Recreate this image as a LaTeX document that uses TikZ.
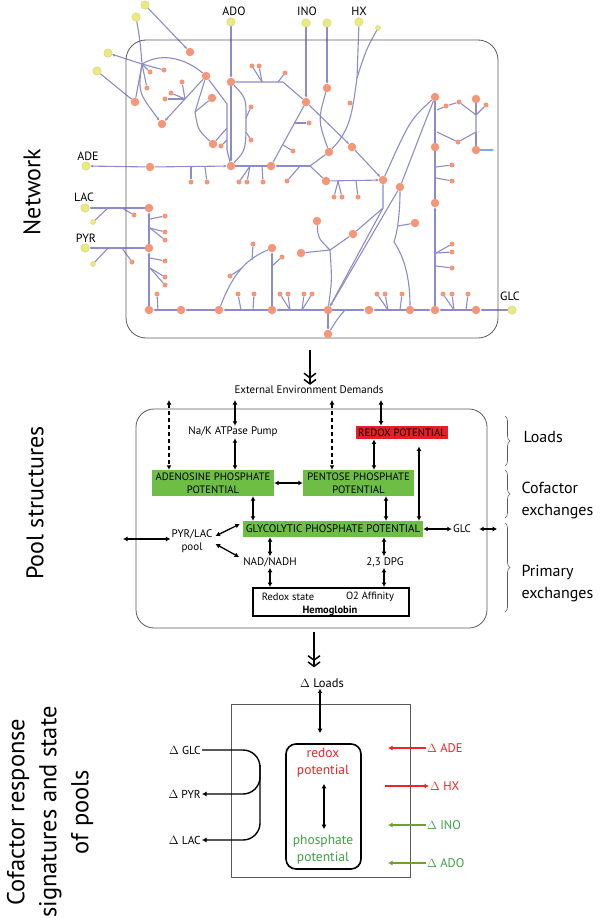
\documentclass[tikz,border=0pt]{standalone}
\usepackage{fontspec}
\setmainfont{PT Sans}
\usetikzlibrary{arrows.meta,decorations.pathreplacing,calc,backgrounds}
\definecolor{edgec}{RGB}{140,140,200}
\definecolor{salmon}{RGB}{244,150,120}
\definecolor{yel}{RGB}{234,234,128}
\definecolor{yelb}{RGB}{205,205,110}
\definecolor{gboxc}{RGB}{110,190,70}
\definecolor{rboxc}{RGB}{230,30,38}
\definecolor{myred}{RGB}{237,36,40}
\definecolor{mygreen}{RGB}{60,160,70}
\definecolor{agreen}{RGB}{110,160,50}
\definecolor{boxgray}{RGB}{90,90,90}
\definecolor{lblue}{RGB}{130,170,220}
\begin{document}
\begin{tikzpicture}[x=1pt,y=-1pt,
  nb/.style={circle,fill=salmon,inner sep=0,minimum size=8.5pt},
  ns/.style={circle,fill=salmon,inner sep=0,minimum size=5pt},
  yb/.style={circle,fill=yel,draw=yelb,line width=0.3pt,inner sep=0,minimum size=8.5pt},
  ysm/.style={circle,fill=yel,draw=yelb,line width=0.3pt,inner sep=0,minimum size=5pt},
  ed/.style={draw=edgec,line width=1.1pt},
  ea/.style={ed,-{Stealth[length=3pt,width=3pt]}},
  sec/.style={rotate=90,font=\fontsize{24}{31}\selectfont,align=center},
  brtxt/.style={anchor=west,font=\fontsize{16}{22}\selectfont,align=left},
  brc/.style={draw=boxgray,line width=0.6pt,decorate,decoration={brace,amplitude=5pt}},
  ptxt/.style={font=\fontsize{11}{13}\selectfont,inner sep=1pt,align=center},
  gbox/.style={fill=gboxc,inner sep=0,align=center,font=\fontsize{10.7}{13}\selectfont},
  pa/.style={line width=1.3pt,{Latex[length=4.5pt,width=5pt]}-{Latex[length=4.5pt,width=5pt]}},
  pd/.style={pa,dash pattern=on 4pt off 3pt},
  dbl/.style={line width=1.5pt,-{Straight Barb[length=4.5pt,width=12pt]Straight Barb[length=4.5pt,width=12pt]}},
  nlab/.style={font=\fontsize{12}{14}\selectfont,inner sep=0},
  dtxt/.style={font=\fontsize{12.5}{15}\selectfont,inner sep=1pt},
  ptl/.style={font=\fontsize{13.5}{17}\selectfont,align=center,inner sep=0},
  ra/.style={line width=1.3pt,-{Latex[length=4.5pt,width=5pt]}},
  ba/.style={line width=1.4pt,-{Latex[length=4.5pt,width=5pt]}}
]
\useasboundingbox (0,0) rectangle (600,918);

% ---------------- section labels
\node[sec] (lnet) at (32,192) {Network};
\node[sec] (lpool) at (35,503) {Pool structures};
\node[sec,font=\fontsize{24.5}{32}\selectfont] (lcof) at (50,812) {Cofactor response\\signatures and state\\of pools};

% ---------------- network box
\node[draw=boxgray,line width=0.8pt,rounded corners=20pt,minimum width=372pt,minimum height=298pt,inner sep=0] (netbox) at (312,189) {};

% yellow externals
\foreach \n/\x/\y in {y1/145/5,y2/136/17,y3/108/53,y4/97/71,yado/231/22,yino/306/23,yx/327/23,yhx/359/22,yade/86/166,ylac/85/208,ypyr/85/248,yglc/512/310}
  \node[yb] (\n) at (\x,\y) {};
\foreach \n/\x/\y in {ys1/378/28,ys2/93/222,ys3/93/264}
  \node[ysm] (\n) at (\x,\y) {};
% big internal
\foreach \n/\x/\y in {n1/190/52,n2/135/102,n3/162/124,n4/206/76,n5/212/98,n6/213/144,n7/231/82,n8/306/102,n9/150/167,n10/231/166,n11/271/166,n12/327/88,n13/329/152,n14/352/147,n15/435/97,n16/476/99,n17/435/147,n18/476/150,n19/326/181,n20/383/180,n21/400/187,n22/435/203,n23/317/221,n24/353/234,n25/415/223,n26/301/253,n27/149/208,n28/149/248,n29/149/310,n30/181/310,n31/219/310,n32/272/310,n33/272/248,n34/328/310,n35/369/310,n36/410/310,n37/435/310,n38/476/310,n39/328/334}
  \node[nb] (\n) at (\x,\y) {};
% small internal
\foreach \n/\x/\y in {s1/150/72,s2/164/70,s3/147/88,s4/182/82,s5/171/93,s6/165/99,s7/221/146,s8/252/66,s9/259/66,s10/285/73,s11/251/107,s12/251/140,s13/309/123,s14/293/151,s15/350/103,s16/446/106,s17/459/102,s18/486/105,s19/458/142,s20/452/165,s21/191/182,s22/207/182,s23/239/182,s24/247/182,s25/263/182,s26/287/181,s27/334/197,s28/342/197,s29/358/197,s30/452/181,s31/134/215,s32/132/262,s33/165/216,s34/165/232,s35/165/240,s36/165/261,s37/165/277,s38/165/285,s39/157/294,s40/253/244,s41/230/276,s42/282/257,s43/238/294,s44/254/294,s45/280/294,s46/288/294,s47/304/294,s48/312/294,s49/377/294,s50/385/294,s51/402/294,s52/443/294,s53/452/294,s54/468/294,s55/452/244,s56/452/252,s57/452/268}
  \node[ns] (\n) at (\x,\y) {};

% labels of externals
\node[nlab] (lado) at (234,11) {ADO};
\node[nlab] (lino) at (307,11) {INO};
\node[nlab] (lhx) at (359,11) {HX};
\node[nlab] (lade) at (88,156) {ADE};
\node[nlab] (llac) at (84,197) {LAC};
\node[nlab] (lpyr) at (86,238) {PYR};
\node[nlab] (lglc) at (510,296) {GLC};

\begin{scope}[on background layer]
\coordinate (j1) at (142,64);
\draw[ed] (y2) .. controls (140,40) .. (j1);
\draw[ea] (j1) -- (y3);
\draw[ea] (y1) -- (n1);
\draw[ed] (j1) -- (s1);
\draw[ed] (j1) -- (s3);
\draw[ed] (j1) -- (s2);
\draw[ed] (j1) .. controls (165,50) and (190,62) .. (n4);
\draw[ea] (j1) .. controls (138,92) .. (n3);
\draw[ed] (j1) -- (n2);
\draw[ed] (y4) -- (n2);
\coordinate (j2) at (185,99);
\draw[ea] (n4) -- (n3);
\draw[ed] (j2) -- (s4);
\draw[ed] (j2) -- (s5);
\draw[ed] (j2) -- (s6);
\coordinate (j3) at (195,112);
\draw[ed] (n4) -- (j3) .. controls (198,130) .. (n6);
\draw[ed] (j3) -- (n5);
\coordinate (j5) at (227,104);
\draw[ed] (n4) -- (j5) -- (227,150) -- (n10);
\draw[ed] (n6) -- (227,128);
\draw[ed] (s7) -- (227,140);
\draw[ea] (yado) -- (n7);
\draw[ea] (n7) -- (n10);
\coordinate (j6) at (246,118);
\draw[ed] (n7) .. controls (246,98) .. (j6) .. controls (246,150) .. (n10);
\draw[ed] (j6) -- (s11);
\draw[ed] (246,132) -- (s12);
\draw[ed] (n7) -- (283,82) -- (n8);
\draw[ed] (262,82) -- (s8);
\draw[ed] (262,82) -- (s9);
\draw[ed] (278,82) -- (s10);
\draw[ea] (yino) -- (n8);
\draw[ed] (n8) -- (n11);
\draw[ed] (294,123) -- (s13);
\draw[ed] (283,145) -- (s14);
\draw[ea] (n8) -- (n14);
\draw[ea] (yx) -- (n12);
\draw[ed] (n12) .. controls (318,120) .. (n13);
\coordinate (jh) at (357,78);
\draw[ed] (yhx) -- (jh) .. controls (352,115) and (350,130) .. (n13);
\draw[ed] (ys1) .. controls (366,50) .. (jh);
\draw[ea] (n14) -- (n20);
\coordinate (j12) at (310,166);
\draw[ed] (n13) -- (j12);
\draw[ea] (j12) -- (n11);
\draw[ed] (j12) -- (n19);
\draw[ed] (300,166) -- (s26);
\draw[ea] (n9) -- (yade);
\draw[ea] (n9) -- (n10);
\draw[ed] (191,167) -- (s21);
\draw[ed] (205,167) -- (s22);
\draw[ed] (n10) -- (n11);
\draw[ed] (250,166) -- (s23);
\draw[ed] (250,166) -- (s24);
\draw[ed] (262,166) -- (s25);
\draw[ea] (n19) -- (n20);
\draw[ed] (338,181) -- (s27);
\draw[ed] (338,181) -- (s28);
\draw[ed] (356,181) -- (s29);
\draw[ed] (n15) .. controls (410,120) .. (n20);
\draw[ed] (n15) .. controls (422,130) .. (n21);
\coordinate (j13) at (383,208);
\draw[ed] (n20) -- (j13) -- (n24);
\draw[ed] (j13) -- (n34);
\draw[ea] (n21) -- (n34);
\coordinate (j14) at (330,250);
\draw[ed] (n24) -- (j14) -- (n26);
\draw[ed] (j14) .. controls (318,238) .. (n23);
\draw[ed] (j14) .. controls (332,280) .. (n34);
\coordinate (j15) at (394,242);
\draw[ed] (n21) .. controls (400,210) and (398,230) .. (j15) .. controls (405,258) and (410,280) .. (n36);
\draw[ed] (398,226) -- (n25);
\draw[ed] (n15) -- (n17);
\draw[ed] (437,110) -- (s16) -- (s17) -- (476,115) -- (476,132) -- (s19) -- (437,132);
\draw[ed] (n16) -- (476,115);
\draw[ed] (s18) -- (476,115);
\draw[ed] (476,132) -- (n18);
\draw[draw=lblue,line width=1.1pt,-{Stealth[length=3pt,width=3pt]}] (n18) -- (494,150);
\draw[ea] (n37) -- (n22);
\draw[ed] (n22) -- (n17);
\draw[ed] (436,167) -- (s20);
\draw[ed] (436,178) -- (s30);
\draw[ed] (436,253) -- (s55);
\draw[ed] (436,253) -- (s56);
\draw[ed] (436,266) -- (s57);
\draw[ea] (n30) -- (n29);
\draw[ea] (n31) -- (n30);
\draw[ea] (n32) -- (n31);
\draw[ea] (n34) -- (n32);
\draw[ea] (n34) -- (n35);
\draw[ea] (n36) -- (n35);
\draw[ea] (n36) -- (n37);
\draw[ea] (n38) -- (n37);
\draw[ea] (yglc) -- (n38);
\draw[ed] (158,310) -- (s39);
\draw[ed] (241,310) -- (s43);
\draw[ed] (253,310) -- (s44);
\draw[ed] (290,310) -- (s45);
\draw[ed] (290,310) -- (s46);
\draw[ed] (302,310) -- (s47);
\draw[ed] (302,310) -- (s48);
\draw[ed] (388,310) -- (s49);
\draw[ed] (388,310) -- (s50);
\draw[ed] (400,310) -- (s51);
\draw[ed] (454,310) -- (s52);
\draw[ed] (454,310) -- (s53);
\draw[ed] (466,310) -- (s54);
\draw[ed] (n31) .. controls (235,268) and (250,258) .. (n33);
\draw[ed] (252,260) -- (s40);
\draw[ed] (242,268) -- (s41);
\draw[ed] (272,266) -- (s42);
\draw[ea] (n32) -- (n33);
\draw[ea] (n34) -- (n39);
\draw[ed] (345,310) .. controls (338,318) .. (n39);
\draw[ea] (n28) -- (n27);
\draw[ea] (n29) -- (n28);
\draw[ed] (150,219) -- (s33);
\draw[ed] (150,228) -- (s34);
\draw[ed] (150,228) -- (s35);
\draw[ed] (150,258) -- (s36);
\draw[ed] (150,268) -- (s37);
\draw[ed] (150,268) -- (s38);
\draw[ea] (n27) -- (ylac);
\draw[ed] (108,208) -- (ys2);
\draw[ed] (122,208) -- (s31);
\draw[ea] (n28) -- (ypyr);
\draw[ed] (108,248) -- (ys3);
\draw[ed] (122,248) -- (s32);
\end{scope}

% ---------------- arrow network -> pool
\coordinate (a1) at (310,350);
\node[ptxt] (ext) at (309,390) {External Environment Demands};
\draw[dbl] (a1) -- (a1 |- ext.north);

% ---------------- pool structures
\node[draw=boxgray,line width=0.8pt,rounded corners=18pt,minimum width=351pt,minimum height=219pt,inner sep=0] (poolbox) at (311.5,518.5) {};
\node[ptxt] (nak) at (233,432) {Na/K ATPase Pump};
\node[gbox,minimum width=122pt,minimum height=26pt] (ade) at (213,483) {ADENOSINE PHOSPHATE\\POTENTIAL};
\node[gbox,minimum width=111pt,minimum height=26pt] (pen) at (358.5,483) {PENTOSE PHOSPHATE\\POTENTIAL};
\node[fill=rboxc,inner sep=0,minimum width=92pt,minimum height=13.5pt,font=\fontsize{10.7}{12}\selectfont] (redox) at (402,432.5) {REDOX POTENTIAL};
\node[gbox,minimum width=180pt,minimum height=16pt,font=\fontsize{11}{13}\selectfont] (gly) at (333,529) {GLYCOLYTIC PHOSPHATE POTENTIAL};
\node[ptxt] (glc) at (462,529) {GLC};
\node[ptxt] (pyr) at (192,541) {PYR/LAC\\pool};
\node[ptxt] (nad) at (270,562) {NAD/NADH};
\node[ptxt] (dpg) at (385,562) {2,3 DPG};
\node[draw,line width=2pt,minimum width=156pt,minimum height=28pt,inner sep=0] (hemo) at (331,602) {};
\node[ptxt,font=\fontsize{10.5}{12}\selectfont] (rst) at (288,597) {Redox state};
\node[ptxt,font=\fontsize{10.5}{12}\selectfont] (o2) at (370,597) {O2 Affinity};
\node[ptxt,font=\fontsize{10.5}{12}\selectfont\bfseries] (hgb) at (330,611) {Hemoglobin};

\coordinate (t1) at (169,400);
\draw[pd] (t1) -- (t1 |- ade.north);
\coordinate (t2) at (235,400);
\draw[pa] (t2) -- (t2 |- nak.north);
\draw[pa] (t2 |- nak.south) -- (t2 |- ade.north);
\draw[pa] (ade.east) -- (pen.west);
\coordinate (t3) at (332,400);
\draw[pd] (t3) -- (t3 |- pen.north);
\coordinate (t4) at (381,400);
\draw[pa] (t4) -- (t4 |- redox.north);
\coordinate (t5) at (374,0);
\draw[pa] (t5 |- redox.south) -- (t5 |- pen.north);
\coordinate (t6) at (419,0);
\draw[pa] ($(t6 |- redox.south)+(0,7)$) -- (t6 |- gly.north);
\coordinate (t7) at (386,0);
\draw[pa] (t7 |- pen.south) -- (t7 |- gly.north);
\coordinate (t8) at (253,0);
\draw[pa] (t8 |- ade.south) -- (t8 |- gly.north);
\draw[pa] (gly.east) -- (glc.west);
\draw[pa] ($(glc.east)+(7,0)$) -- ++(18,0);
\coordinate (p0) at (123,539);
\draw[pa] (p0) -- (p0 -| pyr.west);
\draw[pa] ($(pyr.east)+(2,-5)$) -- ($(gly.west)+(-3,-5)$);
\draw[pa] ($(pyr.east)+(2,3)$) -- ($(nad.west)+(-3,-5)$);
\coordinate (t9) at (270,0);
\draw[pa] (t9 |- gly.south) -- (t9 |- nad.north);
\draw[pa] (t9 |- nad.south) -- (t9 |- hemo.north);
\coordinate (t10) at (384,0);
\draw[pa] (t10 |- gly.south) -- (t10 |- dpg.north);
\draw[pa] (t10 |- dpg.south) -- (t10 |- hemo.north);

% braces
\coordinate (bA) at (505,416); \coordinate (bB) at (505,466);
\coordinate (bC) at (505,470); \coordinate (bD) at (505,518);
\coordinate (bE) at (505,523); \coordinate (bF) at (505,612);
\draw[brc] (bA) -- (bB);
\draw[brc] (bC) -- (bD);
\draw[brc] (bE) -- (bF);
\node[brtxt] (tload) at (520,437) {Loads};
\node[brtxt] (tcof) at (518,500) {Cofactor\\exchanges};
\node[brtxt] (tprim) at (518,584) {Primary\\exchanges};

% ---------------- bottom section
\coordinate (b1) at (314,632);
\node[dtxt] (dloads) at (322,683) {$\Delta$ Loads};
\draw[dbl] (b1) -- ($(b1 |- dloads.north)+(0,-10)$);
\node[draw=boxgray,line width=0.8pt,minimum width=179pt,minimum height=173pt,inner sep=0] (sqbox) at (320.5,790.5) {};
\node[draw,line width=1.6pt,rounded corners=10pt,minimum width=75pt,minimum height=125pt,inner sep=0] (inner) at (323.5,806.5) {};
\node[ptl,text=myred] (redt) at (323,763) {redox\\potential};
\node[ptl,text=mygreen] (phot) at (323,850) {phosphate\\potential};
\coordinate (t11) at (320,0);
\draw[pa] (t11 |- dloads.south) -- ($(t11 |- inner.north)+(0,-10)$);
\coordinate (t12) at (324,0);
\draw[pa] ($(t12 |- redt.south)+(0,6)$) -- ($(t12 |- phot.north)+(0,-6)$);

\node[dtxt,text=myred,anchor=west] (dade) at (426,748) {$\Delta$ ADE};
\node[dtxt,text=myred,anchor=west] (dhx) at (429,786) {$\Delta$ HX};
\node[dtxt,text=mygreen,anchor=west] (dino) at (426,825) {$\Delta$ INO};
\node[dtxt,text=mygreen,anchor=west] (dado) at (426,863) {$\Delta$ ADO};
\draw[ra,draw=myred] (dade.west) -- ++(-38,0);
\draw[ra,draw=myred] ($(dhx.west)+(-44,0)$) -- (dhx.west);
\draw[ra,draw=agreen] (dino.west) -- ++(-38,0);
\draw[ra,draw=agreen] (dado.west) -- ++(-38,0);

\node[dtxt,anchor=east,font=\fontsize{11.5}{14}\selectfont] (dglc) at (202,750) {$\Delta$ GLC};
\node[dtxt,anchor=east,font=\fontsize{11.5}{14}\selectfont] (dpyr) at (202,794) {$\Delta$ PYR};
\node[dtxt,anchor=east,font=\fontsize{11.5}{14}\selectfont] (dlac) at (202,840) {$\Delta$ LAC};
\draw[ba,rounded corners=17pt] (dglc.east) -- (260,750) -- (260,840) -- (dlac.east);
\draw[ba,rounded corners=17pt] (260,765) -- (260,794) -- (dpyr.east);
\end{tikzpicture}
\end{document}
